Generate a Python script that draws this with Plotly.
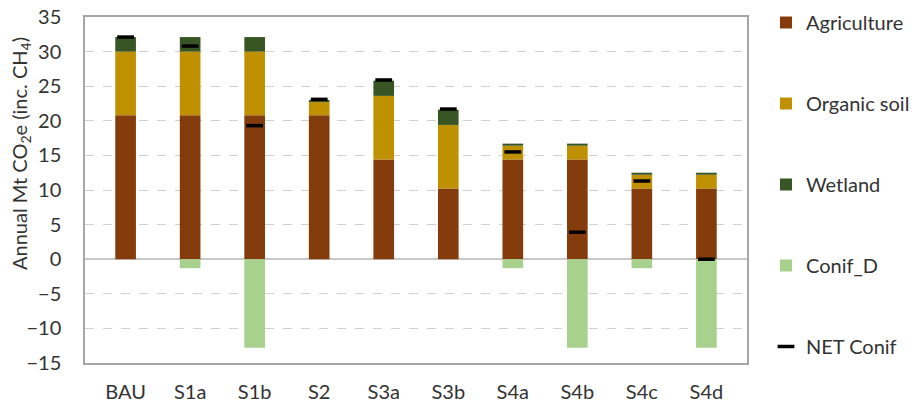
import plotly.graph_objects as go

categories = ["BAU", "S1a", "S1b", "S2", "S3a", "S3b", "S4a", "S4b", "S4c", "S4d"]
agriculture = [20.8, 20.8, 20.8, 20.8, 14.4, 10.2, 14.4, 14.4, 10.2, 10.2]
organic_soil = [9.2, 9.2, 9.2, 1.9, 9.2, 9.2, 2.0, 2.0, 2.0, 2.0]
wetland = [2.1, 2.1, 2.1, 0.3, 2.2, 2.2, 0.3, 0.3, 0.3, 0.3]
conif_d = [0, -1.3, -12.8, 0, 0, 0, -1.3, -12.8, -1.3, -12.8]
net_conif = [32.1, 30.8, 19.3, 23.1, 25.9, 21.7, 15.5, 3.9, 11.3, 0.0]
y_ticks = [-15, -10, -5, 0, 5, 10, 15, 20, 25, 30, 35]

FONT = "Lato, 'Open Sans', sans-serif"
TXT = "#333333"

fig = go.Figure()
series = [
    ("Agriculture", agriculture, "#843C0C"),
    ("Organic soil", organic_soil, "#BF9000"),
    ("Wetland", wetland, "#375623"),
    ("Conif_D", conif_d, "#A9D18E"),
]
for name, vals, col in series:
    fig.add_trace(go.Bar(x=categories, y=vals, name=name, marker_color=col,
                         marker_line_width=0, width=0.32, legendgroup=name))
fig.add_trace(go.Scatter(x=categories, y=net_conif, name="NET Conif", mode="markers",
                         marker=dict(symbol="line-ew", size=12,
                                     line=dict(width=3.5, color="black")),
                         legendgroup="NET Conif"))

fig.update_layout(
    width=915, height=408,
    barmode="relative",
    plot_bgcolor="white", paper_bgcolor="white",
    margin=dict(l=85, r=168, t=17, b=45, autoexpand=False),
    font=dict(family=FONT, size=20, color=TXT),
    legend=dict(x=766 / 915, xanchor="left", xref="container",
                y=1 - 3 / 408, yanchor="top", yref="container",
                maxheight=405,
                traceorder="grouped", tracegroupgap=52,
                font=dict(size=20, color=TXT), itemwidth=30),
    showlegend=True,
    annotations=[dict(text="Annual Mt CO<sub>2</sub>e (inc. CH<sub>4</sub>)",
                      textangle=-90, xref="paper", yref="paper",
                      x=(20 - 85) / 662, y=(363 - 154) / 346,
                      xanchor="center", yanchor="middle", showarrow=False,
                      font=dict(size=20, color=TXT))],
)
fig.update_xaxes(showline=True, mirror=True, linecolor="#a6a6a6", linewidth=1.5,
                 ticks="outside", ticklen=10, tickcolor="rgba(0,0,0,0)",
                 tickfont=dict(size=20, color=TXT), automargin=False)
fig.update_yaxes(range=[-15, 35], tickvals=y_ticks, showline=True, mirror=True,
                 linecolor="#a6a6a6", linewidth=1.5,
                 showgrid=True, gridcolor="#d0d0d0", griddash="dash", gridwidth=1,
                 zeroline=True, zerolinecolor="#c8c8c8", zerolinewidth=1.5,
                 ticks="outside", ticklen=18, tickcolor="rgba(0,0,0,0)",
                 tickfont=dict(size=20, color=TXT), automargin=False)

fig.write_html("out.html")
